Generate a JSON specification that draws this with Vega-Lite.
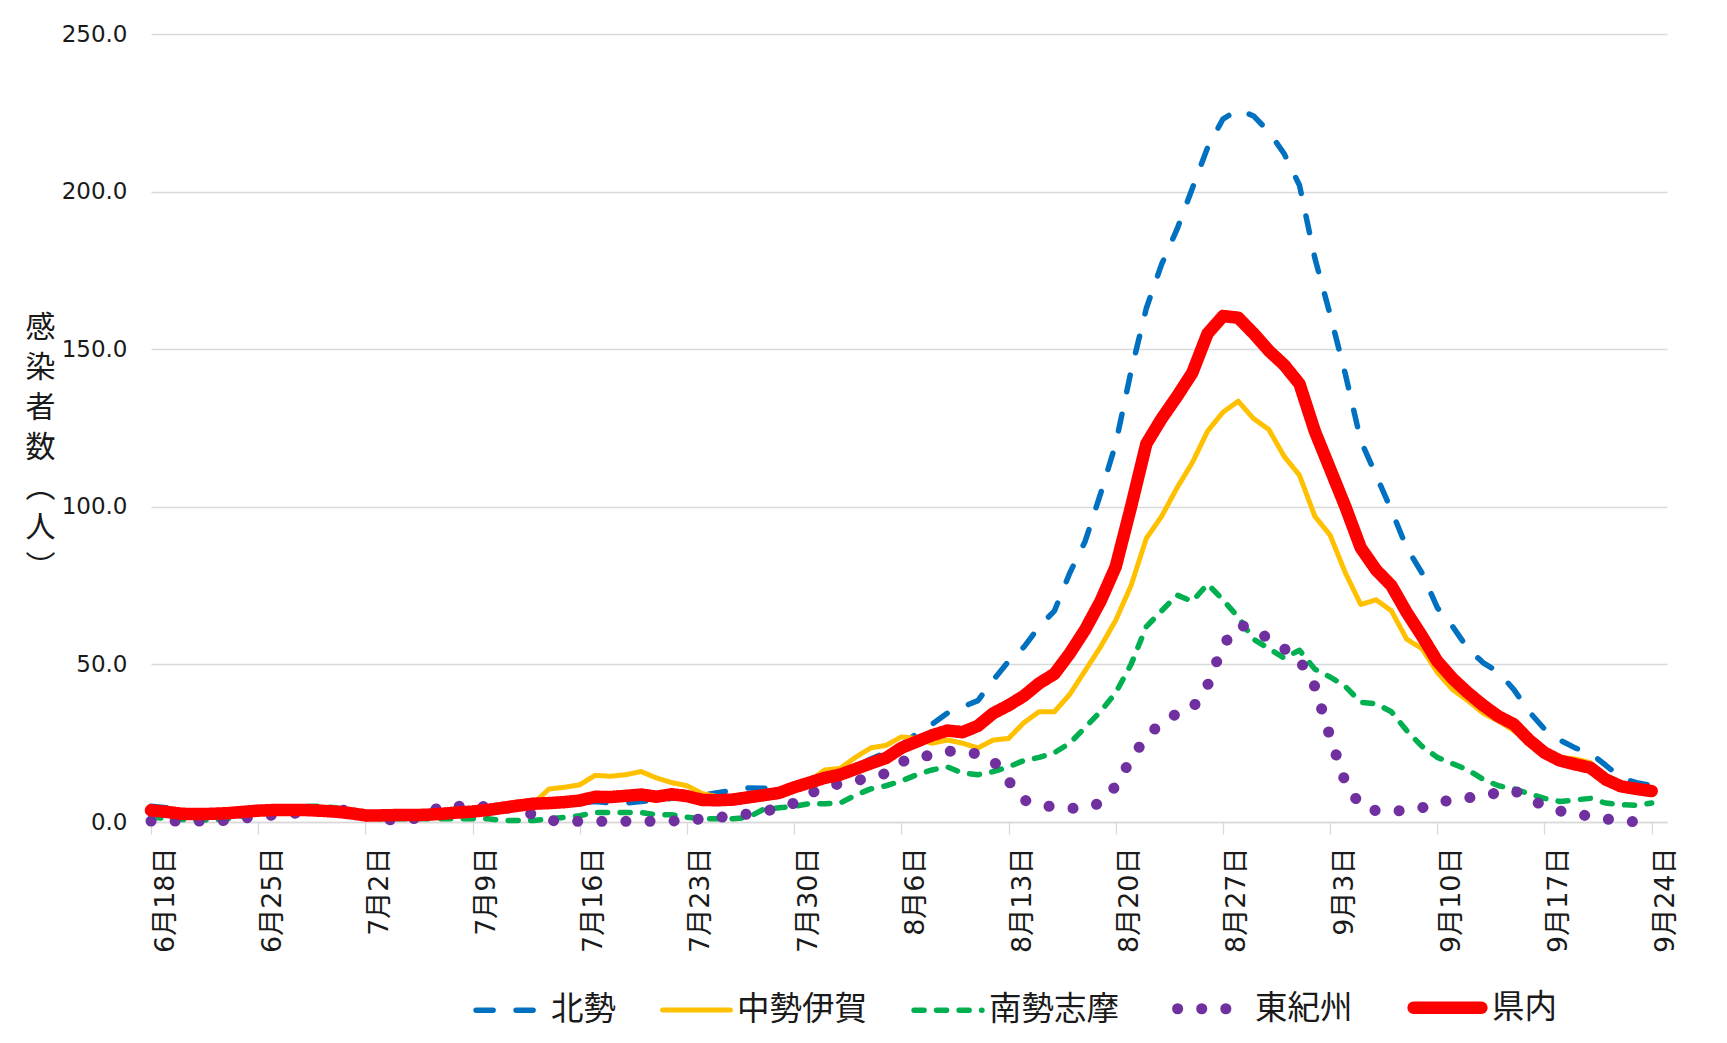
{
"$schema":"https://vega.github.io/schema/vega-lite/v6.json",
"width":1516,"height":788,
"autosize":{"type":"none"},
"padding":{"left":151,"top":34,"right":60,"bottom":221},
"background":"white",
"config":{"view":{"stroke":null},"font":"DejaVu Sans"},
"data":{"values":[
{"d":"2021-06-18","r":"北勢","v":5},{"d":"2021-06-19","r":"北勢","v":4.5},{"d":"2021-06-20","r":"北勢","v":3},{"d":"2021-06-21","r":"北勢","v":2.5},{"d":"2021-06-22","r":"北勢","v":2.5},{"d":"2021-06-23","r":"北勢","v":3},{"d":"2021-06-24","r":"北勢","v":3},{"d":"2021-06-25","r":"北勢","v":3.5},{"d":"2021-06-26","r":"北勢","v":3.5},{"d":"2021-06-27","r":"北勢","v":3.5},
{"d":"2021-06-28","r":"北勢","v":3.5},{"d":"2021-06-29","r":"北勢","v":3.3},{"d":"2021-06-30","r":"北勢","v":3},{"d":"2021-07-01","r":"北勢","v":2.5},{"d":"2021-07-02","r":"北勢","v":2},{"d":"2021-07-03","r":"北勢","v":2},{"d":"2021-07-04","r":"北勢","v":2},{"d":"2021-07-05","r":"北勢","v":2},{"d":"2021-07-06","r":"北勢","v":2},{"d":"2021-07-07","r":"北勢","v":2.2},
{"d":"2021-07-08","r":"北勢","v":2.8},{"d":"2021-07-09","r":"北勢","v":3},{"d":"2021-07-10","r":"北勢","v":3.5},{"d":"2021-07-11","r":"北勢","v":4},{"d":"2021-07-12","r":"北勢","v":4.5},{"d":"2021-07-13","r":"北勢","v":5},{"d":"2021-07-14","r":"北勢","v":5},{"d":"2021-07-15","r":"北勢","v":5.5},{"d":"2021-07-16","r":"北勢","v":6},{"d":"2021-07-17","r":"北勢","v":6.5},
{"d":"2021-07-18","r":"北勢","v":6},{"d":"2021-07-19","r":"北勢","v":6},{"d":"2021-07-20","r":"北勢","v":6.5},{"d":"2021-07-21","r":"北勢","v":7},{"d":"2021-07-22","r":"北勢","v":7.5},{"d":"2021-07-23","r":"北勢","v":8},{"d":"2021-07-24","r":"北勢","v":8.5},{"d":"2021-07-25","r":"北勢","v":9.3},{"d":"2021-07-26","r":"北勢","v":10},{"d":"2021-07-27","r":"北勢","v":10.8},
{"d":"2021-07-28","r":"北勢","v":10.7},{"d":"2021-07-29","r":"北勢","v":11},{"d":"2021-07-30","r":"北勢","v":11.8},{"d":"2021-07-31","r":"北勢","v":12.7},{"d":"2021-08-01","r":"北勢","v":14},{"d":"2021-08-02","r":"北勢","v":15.5},{"d":"2021-08-03","r":"北勢","v":17.5},{"d":"2021-08-04","r":"北勢","v":20},{"d":"2021-08-05","r":"北勢","v":22},{"d":"2021-08-06","r":"北勢","v":24.5},
{"d":"2021-08-07","r":"北勢","v":28},{"d":"2021-08-08","r":"北勢","v":31},{"d":"2021-08-09","r":"北勢","v":34.5},{"d":"2021-08-10","r":"北勢","v":36.5},{"d":"2021-08-11","r":"北勢","v":38.5},{"d":"2021-08-12","r":"北勢","v":45},{"d":"2021-08-13","r":"北勢","v":51},{"d":"2021-08-14","r":"北勢","v":55.5},{"d":"2021-08-15","r":"北勢","v":62},{"d":"2021-08-16","r":"北勢","v":67},
{"d":"2021-08-17","r":"北勢","v":79},{"d":"2021-08-18","r":"北勢","v":89},{"d":"2021-08-19","r":"北勢","v":104},{"d":"2021-08-20","r":"北勢","v":120},{"d":"2021-08-21","r":"北勢","v":143},{"d":"2021-08-22","r":"北勢","v":163},{"d":"2021-08-23","r":"北勢","v":177},{"d":"2021-08-24","r":"北勢","v":188},{"d":"2021-08-25","r":"北勢","v":201},{"d":"2021-08-26","r":"北勢","v":214},
{"d":"2021-08-27","r":"北勢","v":223},{"d":"2021-08-28","r":"北勢","v":226},{"d":"2021-08-29","r":"北勢","v":224},{"d":"2021-08-30","r":"北勢","v":219},{"d":"2021-08-31","r":"北勢","v":212},{"d":"2021-09-01","r":"北勢","v":202},{"d":"2021-09-02","r":"北勢","v":179},{"d":"2021-09-03","r":"北勢","v":161},{"d":"2021-09-04","r":"北勢","v":142},{"d":"2021-09-05","r":"北勢","v":121},
{"d":"2021-09-06","r":"北勢","v":110},{"d":"2021-09-07","r":"北勢","v":99},{"d":"2021-09-08","r":"北勢","v":87},{"d":"2021-09-09","r":"北勢","v":79},{"d":"2021-09-10","r":"北勢","v":68},{"d":"2021-09-11","r":"北勢","v":62},{"d":"2021-09-12","r":"北勢","v":55},{"d":"2021-09-13","r":"北勢","v":50.5},{"d":"2021-09-14","r":"北勢","v":47.5},{"d":"2021-09-15","r":"北勢","v":42},
{"d":"2021-09-16","r":"北勢","v":35},{"d":"2021-09-17","r":"北勢","v":29.5},{"d":"2021-09-18","r":"北勢","v":26},{"d":"2021-09-19","r":"北勢","v":23.5},{"d":"2021-09-20","r":"北勢","v":21.8},{"d":"2021-09-21","r":"北勢","v":18},{"d":"2021-09-22","r":"北勢","v":14},{"d":"2021-09-23","r":"北勢","v":12.5},{"d":"2021-09-24","r":"北勢","v":11.5},

{"d":"2021-06-18","r":"中勢伊賀","v":3},{"d":"2021-06-19","r":"中勢伊賀","v":2.5},{"d":"2021-06-20","r":"中勢伊賀","v":2},{"d":"2021-06-21","r":"中勢伊賀","v":2},{"d":"2021-06-22","r":"中勢伊賀","v":2.3},{"d":"2021-06-23","r":"中勢伊賀","v":2.5},{"d":"2021-06-24","r":"中勢伊賀","v":3},{"d":"2021-06-25","r":"中勢伊賀","v":3.2},{"d":"2021-06-26","r":"中勢伊賀","v":3.3},{"d":"2021-06-27","r":"中勢伊賀","v":3.3},
{"d":"2021-06-28","r":"中勢伊賀","v":3.3},{"d":"2021-06-29","r":"中勢伊賀","v":3},{"d":"2021-06-30","r":"中勢伊賀","v":2.7},{"d":"2021-07-01","r":"中勢伊賀","v":2.2},{"d":"2021-07-02","r":"中勢伊賀","v":1.8},{"d":"2021-07-03","r":"中勢伊賀","v":1.8},{"d":"2021-07-04","r":"中勢伊賀","v":2},{"d":"2021-07-05","r":"中勢伊賀","v":2},{"d":"2021-07-06","r":"中勢伊賀","v":2.3},{"d":"2021-07-07","r":"中勢伊賀","v":2.8},
{"d":"2021-07-08","r":"中勢伊賀","v":3.5},{"d":"2021-07-09","r":"中勢伊賀","v":4},{"d":"2021-07-10","r":"中勢伊賀","v":4.5},{"d":"2021-07-11","r":"中勢伊賀","v":5},{"d":"2021-07-12","r":"中勢伊賀","v":5.5},{"d":"2021-07-13","r":"中勢伊賀","v":6},{"d":"2021-07-14","r":"中勢伊賀","v":10.5},{"d":"2021-07-15","r":"中勢伊賀","v":11},{"d":"2021-07-16","r":"中勢伊賀","v":11.8},{"d":"2021-07-17","r":"中勢伊賀","v":14.8},
{"d":"2021-07-18","r":"中勢伊賀","v":14.5},{"d":"2021-07-19","r":"中勢伊賀","v":15},{"d":"2021-07-20","r":"中勢伊賀","v":16},{"d":"2021-07-21","r":"中勢伊賀","v":14},{"d":"2021-07-22","r":"中勢伊賀","v":12.5},{"d":"2021-07-23","r":"中勢伊賀","v":11.5},{"d":"2021-07-24","r":"中勢伊賀","v":9},{"d":"2021-07-25","r":"中勢伊賀","v":8},{"d":"2021-07-26","r":"中勢伊賀","v":7},{"d":"2021-07-27","r":"中勢伊賀","v":7.5},
{"d":"2021-07-28","r":"中勢伊賀","v":8},{"d":"2021-07-29","r":"中勢伊賀","v":9},{"d":"2021-07-30","r":"中勢伊賀","v":10.8},{"d":"2021-07-31","r":"中勢伊賀","v":13},{"d":"2021-08-01","r":"中勢伊賀","v":16.5},{"d":"2021-08-02","r":"中勢伊賀","v":17},{"d":"2021-08-03","r":"中勢伊賀","v":20.5},{"d":"2021-08-04","r":"中勢伊賀","v":23.5},{"d":"2021-08-05","r":"中勢伊賀","v":24.3},{"d":"2021-08-06","r":"中勢伊賀","v":27},
{"d":"2021-08-07","r":"中勢伊賀","v":26.5},{"d":"2021-08-08","r":"中勢伊賀","v":25},{"d":"2021-08-09","r":"中勢伊賀","v":26},{"d":"2021-08-10","r":"中勢伊賀","v":25},{"d":"2021-08-11","r":"中勢伊賀","v":23.5},{"d":"2021-08-12","r":"中勢伊賀","v":26},{"d":"2021-08-13","r":"中勢伊賀","v":26.5},{"d":"2021-08-14","r":"中勢伊賀","v":31.5},{"d":"2021-08-15","r":"中勢伊賀","v":35},{"d":"2021-08-16","r":"中勢伊賀","v":35},
{"d":"2021-08-17","r":"中勢伊賀","v":40.5},{"d":"2021-08-18","r":"中勢伊賀","v":48},{"d":"2021-08-19","r":"中勢伊賀","v":55.5},{"d":"2021-08-20","r":"中勢伊賀","v":64},{"d":"2021-08-21","r":"中勢伊賀","v":75},{"d":"2021-08-22","r":"中勢伊賀","v":90},{"d":"2021-08-23","r":"中勢伊賀","v":97},{"d":"2021-08-24","r":"中勢伊賀","v":106},{"d":"2021-08-25","r":"中勢伊賀","v":114},{"d":"2021-08-26","r":"中勢伊賀","v":124},
{"d":"2021-08-27","r":"中勢伊賀","v":130},{"d":"2021-08-28","r":"中勢伊賀","v":133.5},{"d":"2021-08-29","r":"中勢伊賀","v":128},{"d":"2021-08-30","r":"中勢伊賀","v":124.5},{"d":"2021-08-31","r":"中勢伊賀","v":116},{"d":"2021-09-01","r":"中勢伊賀","v":110},{"d":"2021-09-02","r":"中勢伊賀","v":97},{"d":"2021-09-03","r":"中勢伊賀","v":91},{"d":"2021-09-04","r":"中勢伊賀","v":79},{"d":"2021-09-05","r":"中勢伊賀","v":69},
{"d":"2021-09-06","r":"中勢伊賀","v":70.5},{"d":"2021-09-07","r":"中勢伊賀","v":67},{"d":"2021-09-08","r":"中勢伊賀","v":58},{"d":"2021-09-09","r":"中勢伊賀","v":55},{"d":"2021-09-10","r":"中勢伊賀","v":47.5},{"d":"2021-09-11","r":"中勢伊賀","v":42},{"d":"2021-09-12","r":"中勢伊賀","v":38.5},{"d":"2021-09-13","r":"中勢伊賀","v":34.5},{"d":"2021-09-14","r":"中勢伊賀","v":32},{"d":"2021-09-15","r":"中勢伊賀","v":29},
{"d":"2021-09-16","r":"中勢伊賀","v":25},{"d":"2021-09-17","r":"中勢伊賀","v":22},{"d":"2021-09-18","r":"中勢伊賀","v":20.5},{"d":"2021-09-19","r":"中勢伊賀","v":20},{"d":"2021-09-20","r":"中勢伊賀","v":18.8},{"d":"2021-09-21","r":"中勢伊賀","v":13.5},{"d":"2021-09-22","r":"中勢伊賀","v":11.5},{"d":"2021-09-23","r":"中勢伊賀","v":10.5},{"d":"2021-09-24","r":"中勢伊賀","v":9.5},

{"d":"2021-06-18","r":"南勢志摩","v":1.5},{"d":"2021-06-19","r":"南勢志摩","v":1.2},{"d":"2021-06-20","r":"南勢志摩","v":0.8},{"d":"2021-06-21","r":"南勢志摩","v":0.6},{"d":"2021-06-22","r":"南勢志摩","v":0.6},{"d":"2021-06-23","r":"南勢志摩","v":1},{"d":"2021-06-24","r":"南勢志摩","v":2},{"d":"2021-06-25","r":"南勢志摩","v":3},{"d":"2021-06-26","r":"南勢志摩","v":3.8},{"d":"2021-06-27","r":"南勢志摩","v":4.5},
{"d":"2021-06-28","r":"南勢志摩","v":5},{"d":"2021-06-29","r":"南勢志摩","v":5},{"d":"2021-06-30","r":"南勢志摩","v":4.5},{"d":"2021-07-01","r":"南勢志摩","v":3.8},{"d":"2021-07-02","r":"南勢志摩","v":2.2},{"d":"2021-07-03","r":"南勢志摩","v":1},{"d":"2021-07-04","r":"南勢志摩","v":1},{"d":"2021-07-05","r":"南勢志摩","v":1},{"d":"2021-07-06","r":"南勢志摩","v":1},{"d":"2021-07-07","r":"南勢志摩","v":1},
{"d":"2021-07-08","r":"南勢志摩","v":1},{"d":"2021-07-09","r":"南勢志摩","v":1},{"d":"2021-07-10","r":"南勢志摩","v":1},{"d":"2021-07-11","r":"南勢志摩","v":0.5},{"d":"2021-07-12","r":"南勢志摩","v":0.5},{"d":"2021-07-13","r":"南勢志摩","v":0.5},{"d":"2021-07-14","r":"南勢志摩","v":1},{"d":"2021-07-15","r":"南勢志摩","v":1.5},{"d":"2021-07-16","r":"南勢志摩","v":2},{"d":"2021-07-17","r":"南勢志摩","v":3},
{"d":"2021-07-18","r":"南勢志摩","v":3},{"d":"2021-07-19","r":"南勢志摩","v":3},{"d":"2021-07-20","r":"南勢志摩","v":3},{"d":"2021-07-21","r":"南勢志摩","v":2.3},{"d":"2021-07-22","r":"南勢志摩","v":2.3},{"d":"2021-07-23","r":"南勢志摩","v":1.5},{"d":"2021-07-24","r":"南勢志摩","v":1},{"d":"2021-07-25","r":"南勢志摩","v":1},{"d":"2021-07-26","r":"南勢志摩","v":1},{"d":"2021-07-27","r":"南勢志摩","v":1.5},
{"d":"2021-07-28","r":"南勢志摩","v":4},{"d":"2021-07-29","r":"南勢志摩","v":4.5},{"d":"2021-07-30","r":"南勢志摩","v":5},{"d":"2021-07-31","r":"南勢志摩","v":5.8},{"d":"2021-08-01","r":"南勢志摩","v":5.8},{"d":"2021-08-02","r":"南勢志摩","v":6},{"d":"2021-08-03","r":"南勢志摩","v":8.5},{"d":"2021-08-04","r":"南勢志摩","v":10.5},{"d":"2021-08-05","r":"南勢志摩","v":11.5},{"d":"2021-08-06","r":"南勢志摩","v":13},
{"d":"2021-08-07","r":"南勢志摩","v":15},{"d":"2021-08-08","r":"南勢志摩","v":16.5},{"d":"2021-08-09","r":"南勢志摩","v":17.5},{"d":"2021-08-10","r":"南勢志摩","v":15.5},{"d":"2021-08-11","r":"南勢志摩","v":15},{"d":"2021-08-12","r":"南勢志摩","v":16},{"d":"2021-08-13","r":"南勢志摩","v":17.5},{"d":"2021-08-14","r":"南勢志摩","v":19.5},{"d":"2021-08-15","r":"南勢志摩","v":20.5},{"d":"2021-08-16","r":"南勢志摩","v":22},
{"d":"2021-08-17","r":"南勢志摩","v":25},{"d":"2021-08-18","r":"南勢志摩","v":30},{"d":"2021-08-19","r":"南勢志摩","v":35},{"d":"2021-08-20","r":"南勢志摩","v":41},{"d":"2021-08-21","r":"南勢志摩","v":50},{"d":"2021-08-22","r":"南勢志摩","v":62},{"d":"2021-08-23","r":"南勢志摩","v":67},{"d":"2021-08-24","r":"南勢志摩","v":72},{"d":"2021-08-25","r":"南勢志摩","v":70},{"d":"2021-08-26","r":"南勢志摩","v":75.5},
{"d":"2021-08-27","r":"南勢志摩","v":70.5},{"d":"2021-08-28","r":"南勢志摩","v":65},{"d":"2021-08-29","r":"南勢志摩","v":58},{"d":"2021-08-30","r":"南勢志摩","v":55},{"d":"2021-08-31","r":"南勢志摩","v":52},{"d":"2021-09-01","r":"南勢志摩","v":54.5},{"d":"2021-09-02","r":"南勢志摩","v":48.5},{"d":"2021-09-03","r":"南勢志摩","v":46},{"d":"2021-09-04","r":"南勢志摩","v":43},{"d":"2021-09-05","r":"南勢志摩","v":38},
{"d":"2021-09-06","r":"南勢志摩","v":37.5},{"d":"2021-09-07","r":"南勢志摩","v":35},{"d":"2021-09-08","r":"南勢志摩","v":29},{"d":"2021-09-09","r":"南勢志摩","v":24},{"d":"2021-09-10","r":"南勢志摩","v":20.5},{"d":"2021-09-11","r":"南勢志摩","v":18.5},{"d":"2021-09-12","r":"南勢志摩","v":16.5},{"d":"2021-09-13","r":"南勢志摩","v":13.5},{"d":"2021-09-14","r":"南勢志摩","v":11.5},{"d":"2021-09-15","r":"南勢志摩","v":10.5},
{"d":"2021-09-16","r":"南勢志摩","v":9},{"d":"2021-09-17","r":"南勢志摩","v":7.5},{"d":"2021-09-18","r":"南勢志摩","v":6.5},{"d":"2021-09-19","r":"南勢志摩","v":7},{"d":"2021-09-20","r":"南勢志摩","v":7.5},{"d":"2021-09-21","r":"南勢志摩","v":6},{"d":"2021-09-22","r":"南勢志摩","v":5.5},{"d":"2021-09-23","r":"南勢志摩","v":5.3},{"d":"2021-09-24","r":"南勢志摩","v":6},

{"d":"2021-06-18","r":"東紀州","v":0.3},{"d":"2021-06-19","r":"東紀州","v":0.3},{"d":"2021-06-20","r":"東紀州","v":0.3},{"d":"2021-06-21","r":"東紀州","v":0.3},{"d":"2021-06-22","r":"東紀州","v":0.3},{"d":"2021-06-23","r":"東紀州","v":0.5},{"d":"2021-06-24","r":"東紀州","v":1.2},{"d":"2021-06-25","r":"東紀州","v":1.8},{"d":"2021-06-26","r":"東紀州","v":2.2},{"d":"2021-06-27","r":"東紀州","v":2.6},
{"d":"2021-06-28","r":"東紀州","v":3},{"d":"2021-06-29","r":"東紀州","v":3.3},{"d":"2021-06-30","r":"東紀州","v":3.6},{"d":"2021-07-01","r":"東紀州","v":3.8},{"d":"2021-07-02","r":"東紀州","v":2},{"d":"2021-07-03","r":"東紀州","v":0.8},{"d":"2021-07-04","r":"東紀州","v":0.6},{"d":"2021-07-05","r":"東紀州","v":0.8},{"d":"2021-07-06","r":"東紀州","v":2.5},{"d":"2021-07-07","r":"東紀州","v":5.2},
{"d":"2021-07-08","r":"東紀州","v":5},{"d":"2021-07-09","r":"東紀州","v":4.9},{"d":"2021-07-10","r":"東紀州","v":4.9},{"d":"2021-07-11","r":"東紀州","v":4.6},{"d":"2021-07-12","r":"東紀州","v":3.8},{"d":"2021-07-13","r":"東紀州","v":2.3},{"d":"2021-07-14","r":"東紀州","v":0.5},{"d":"2021-07-15","r":"東紀州","v":0.2},{"d":"2021-07-16","r":"東紀州","v":0.2},{"d":"2021-07-17","r":"東紀州","v":0.2},
{"d":"2021-07-18","r":"東紀州","v":0.2},{"d":"2021-07-19","r":"東紀州","v":0.2},{"d":"2021-07-20","r":"東紀州","v":0.2},{"d":"2021-07-21","r":"東紀州","v":0.2},{"d":"2021-07-22","r":"東紀州","v":0.3},{"d":"2021-07-23","r":"東紀州","v":0.6},{"d":"2021-07-24","r":"東紀州","v":1},{"d":"2021-07-25","r":"東紀州","v":1.4},{"d":"2021-07-26","r":"東紀州","v":2},{"d":"2021-07-27","r":"東紀州","v":2.5},
{"d":"2021-07-28","r":"東紀州","v":3.4},{"d":"2021-07-29","r":"東紀州","v":4.3},{"d":"2021-07-30","r":"東紀州","v":6},{"d":"2021-07-31","r":"東紀州","v":9},{"d":"2021-08-01","r":"東紀州","v":11},{"d":"2021-08-02","r":"東紀州","v":12.2},{"d":"2021-08-03","r":"東紀州","v":13},{"d":"2021-08-04","r":"東紀州","v":14.2},{"d":"2021-08-05","r":"東紀州","v":15.4},{"d":"2021-08-06","r":"東紀州","v":19},
{"d":"2021-08-07","r":"東紀州","v":21},{"d":"2021-08-08","r":"東紀州","v":21},{"d":"2021-08-09","r":"東紀州","v":22.5},{"d":"2021-08-10","r":"東紀州","v":22.3},{"d":"2021-08-11","r":"東紀州","v":21.6},{"d":"2021-08-12","r":"東紀州","v":19.5},{"d":"2021-08-13","r":"東紀州","v":13},{"d":"2021-08-14","r":"東紀州","v":7},{"d":"2021-08-15","r":"東紀州","v":5.3},{"d":"2021-08-16","r":"東紀州","v":4.8},
{"d":"2021-08-17","r":"東紀州","v":4.3},{"d":"2021-08-18","r":"東紀州","v":4.5},{"d":"2021-08-19","r":"東紀州","v":6},{"d":"2021-08-20","r":"東紀州","v":11.4},{"d":"2021-08-21","r":"東紀州","v":20},{"d":"2021-08-22","r":"東紀州","v":27},{"d":"2021-08-23","r":"東紀州","v":31.5},{"d":"2021-08-24","r":"東紀州","v":34.4},{"d":"2021-08-25","r":"東紀州","v":36},{"d":"2021-08-26","r":"東紀州","v":43.4},
{"d":"2021-08-27","r":"東紀州","v":56},{"d":"2021-08-28","r":"東紀州","v":62.5},{"d":"2021-08-29","r":"東紀州","v":61.5},{"d":"2021-08-30","r":"東紀州","v":58},{"d":"2021-08-31","r":"東紀州","v":55},{"d":"2021-09-01","r":"東紀州","v":51.5},{"d":"2021-09-02","r":"東紀州","v":43},{"d":"2021-09-03","r":"東紀州","v":27},{"d":"2021-09-04","r":"東紀州","v":12.5},{"d":"2021-09-05","r":"東紀州","v":5},
{"d":"2021-09-06","r":"東紀州","v":3.6},{"d":"2021-09-07","r":"東紀州","v":3.5},{"d":"2021-09-08","r":"東紀州","v":3.6},{"d":"2021-09-09","r":"東紀州","v":4.5},{"d":"2021-09-10","r":"東紀州","v":6.2},{"d":"2021-09-11","r":"東紀州","v":7},{"d":"2021-09-12","r":"東紀州","v":7.7},{"d":"2021-09-13","r":"東紀州","v":8},{"d":"2021-09-14","r":"東紀州","v":9.5},{"d":"2021-09-15","r":"東紀州","v":10},
{"d":"2021-09-16","r":"東紀州","v":7.5},{"d":"2021-09-17","r":"東紀州","v":5},{"d":"2021-09-18","r":"東紀州","v":3.5},{"d":"2021-09-19","r":"東紀州","v":2.6},{"d":"2021-09-20","r":"東紀州","v":1.8},{"d":"2021-09-21","r":"東紀州","v":1},{"d":"2021-09-22","r":"東紀州","v":0.2},{"d":"2021-09-23","r":"東紀州","v":0.1},{"d":"2021-09-24","r":"東紀州","v":0.1},

{"d":"2021-06-18","r":"県内","v":3.7},{"d":"2021-06-19","r":"県内","v":3.2},{"d":"2021-06-20","r":"県内","v":2.6},{"d":"2021-06-21","r":"県内","v":2.5},{"d":"2021-06-22","r":"県内","v":2.6},{"d":"2021-06-23","r":"県内","v":2.8},{"d":"2021-06-24","r":"県内","v":3.2},{"d":"2021-06-25","r":"県内","v":3.6},{"d":"2021-06-26","r":"県内","v":3.8},{"d":"2021-06-27","r":"県内","v":3.8},
{"d":"2021-06-28","r":"県内","v":3.8},{"d":"2021-06-29","r":"県内","v":3.6},{"d":"2021-06-30","r":"県内","v":3.3},{"d":"2021-07-01","r":"県内","v":2.8},{"d":"2021-07-02","r":"県内","v":2.1},{"d":"2021-07-03","r":"県内","v":2.1},{"d":"2021-07-04","r":"県内","v":2.2},{"d":"2021-07-05","r":"県内","v":2.2},{"d":"2021-07-06","r":"県内","v":2.3},{"d":"2021-07-07","r":"県内","v":2.6},
{"d":"2021-07-08","r":"県内","v":3},{"d":"2021-07-09","r":"県内","v":3.3},{"d":"2021-07-10","r":"県内","v":3.8},{"d":"2021-07-11","r":"県内","v":4.5},{"d":"2021-07-12","r":"県内","v":5.2},{"d":"2021-07-13","r":"県内","v":5.8},{"d":"2021-07-14","r":"県内","v":6},{"d":"2021-07-15","r":"県内","v":6.3},{"d":"2021-07-16","r":"県内","v":6.8},{"d":"2021-07-17","r":"県内","v":8},
{"d":"2021-07-18","r":"県内","v":7.9},{"d":"2021-07-19","r":"県内","v":8.3},{"d":"2021-07-20","r":"県内","v":8.7},{"d":"2021-07-21","r":"県内","v":8},{"d":"2021-07-22","r":"県内","v":8.8},{"d":"2021-07-23","r":"県内","v":8.2},{"d":"2021-07-24","r":"県内","v":7},{"d":"2021-07-25","r":"県内","v":6.9},{"d":"2021-07-26","r":"県内","v":7.1},{"d":"2021-07-27","r":"県内","v":7.8},
{"d":"2021-07-28","r":"県内","v":8.5},{"d":"2021-07-29","r":"県内","v":9.2},{"d":"2021-07-30","r":"県内","v":11},{"d":"2021-07-31","r":"県内","v":12.5},{"d":"2021-08-01","r":"県内","v":14},{"d":"2021-08-02","r":"県内","v":15},{"d":"2021-08-03","r":"県内","v":16.8},{"d":"2021-08-04","r":"県内","v":18.6},{"d":"2021-08-05","r":"県内","v":20.3},{"d":"2021-08-06","r":"県内","v":23.5},
{"d":"2021-08-07","r":"県内","v":25.5},{"d":"2021-08-08","r":"県内","v":27.5},{"d":"2021-08-09","r":"県内","v":29},{"d":"2021-08-10","r":"県内","v":28.5},{"d":"2021-08-11","r":"県内","v":30.5},{"d":"2021-08-12","r":"県内","v":34.5},{"d":"2021-08-13","r":"県内","v":37},{"d":"2021-08-14","r":"県内","v":40},{"d":"2021-08-15","r":"県内","v":44},{"d":"2021-08-16","r":"県内","v":47},
{"d":"2021-08-17","r":"県内","v":53.5},{"d":"2021-08-18","r":"県内","v":61},{"d":"2021-08-19","r":"県内","v":70},{"d":"2021-08-20","r":"県内","v":81},{"d":"2021-08-21","r":"県内","v":100},{"d":"2021-08-22","r":"県内","v":120},{"d":"2021-08-23","r":"県内","v":128},{"d":"2021-08-24","r":"県内","v":135},{"d":"2021-08-25","r":"県内","v":142.5},{"d":"2021-08-26","r":"県内","v":155},
{"d":"2021-08-27","r":"県内","v":160.5},{"d":"2021-08-28","r":"県内","v":160},{"d":"2021-08-29","r":"県内","v":155},{"d":"2021-08-30","r":"県内","v":149.5},{"d":"2021-08-31","r":"県内","v":145},{"d":"2021-09-01","r":"県内","v":139},{"d":"2021-09-02","r":"県内","v":124},{"d":"2021-09-03","r":"県内","v":112},{"d":"2021-09-04","r":"県内","v":100},{"d":"2021-09-05","r":"県内","v":87},
{"d":"2021-09-06","r":"県内","v":80},{"d":"2021-09-07","r":"県内","v":75},{"d":"2021-09-08","r":"県内","v":66.5},{"d":"2021-09-09","r":"県内","v":59},{"d":"2021-09-10","r":"県内","v":51},{"d":"2021-09-11","r":"県内","v":45.5},{"d":"2021-09-12","r":"県内","v":41},{"d":"2021-09-13","r":"県内","v":37},{"d":"2021-09-14","r":"県内","v":33.5},{"d":"2021-09-15","r":"県内","v":31},
{"d":"2021-09-16","r":"県内","v":26},{"d":"2021-09-17","r":"県内","v":22},{"d":"2021-09-18","r":"県内","v":19.5},{"d":"2021-09-19","r":"県内","v":18.3},{"d":"2021-09-20","r":"県内","v":17.2},{"d":"2021-09-21","r":"県内","v":13.5},{"d":"2021-09-22","r":"県内","v":11.3},{"d":"2021-09-23","r":"県内","v":10.5},{"d":"2021-09-24","r":"県内","v":9.8}
]},
"encoding":{
 "x":{"field":"d","type":"temporal",
  "scale":{"type":"utc","domain":[{"year":2021,"month":6,"date":18,"utc":true},{"year":2021,"month":9,"date":25,"utc":true}]},
  "axis":{"title":null,"format":"%-m月%-d日","labelAngle":-90,"labelFontSize":27,"labelFont":"DejaVu Sans, Noto Sans CJK JP","labelColor":"#1a1a1a","labelPadding":13,"labelOffset":14,"labelFlush":false,"labelBound":false,"labelOverlap":false,"tickSize":12,"tickColor":"#d9d9d9","tickWidth":1.3,"domainColor":"#d9d9d9","domainWidth":1.3,"grid":false,
   "values":[{"year":2021,"month":6,"date":18,"utc":true},{"year":2021,"month":6,"date":25,"utc":true},{"year":2021,"month":7,"date":2,"utc":true},{"year":2021,"month":7,"date":9,"utc":true},{"year":2021,"month":7,"date":16,"utc":true},{"year":2021,"month":7,"date":23,"utc":true},{"year":2021,"month":7,"date":30,"utc":true},{"year":2021,"month":8,"date":6,"utc":true},{"year":2021,"month":8,"date":13,"utc":true},{"year":2021,"month":8,"date":20,"utc":true},{"year":2021,"month":8,"date":27,"utc":true},{"year":2021,"month":9,"date":3,"utc":true},{"year":2021,"month":9,"date":10,"utc":true},{"year":2021,"month":9,"date":17,"utc":true},{"year":2021,"month":9,"date":24,"utc":true}]}},
 "y":{"field":"v","type":"quantitative","scale":{"domain":[0,250]},
  "axis":{"values":[0,50,100,150,200,250],"format":".1f","labelFontSize":23,"labelFont":"DejaVu Sans","labelColor":"#1a1a1a","labelPadding":24,"ticks":false,"domain":false,"grid":true,"gridColor":"#d9d9d9","gridWidth":1.3,
   "title":["感","染","者","数","︵","人","︶"],"titleAngle":0,"titleX":-111,"titleY":293,"titleAlign":"center","titleBaseline":"middle","titleLineHeight":40,"titleFontSize":30,"titleFont":"Noto Sans CJK JP","titleFontWeight":"normal","titleColor":"#1a1a1a"}},
 "color":{"field":"r","type":"nominal","scale":{"domain":["北勢","中勢伊賀","南勢志摩","東紀州","県内"],"range":["#0070C0","#FFC000","#00B050","#7030A0","#FF0000"]},
  "legend":{"orient":"none","legendX":322,"legendY":933,"direction":"horizontal","title":null,"symbolType":"stroke","symbolSize":4600,"labelFontSize":32.5,"labelFont":"Noto Sans CJK JP","labelColor":"#1a1a1a","labelOffset":4,"columnPadding":35,"labelLimit":400,"encoding":{"symbols":{"strokeCap":{"value":"round"}}}}},
 "strokeDash":{"field":"r","type":"nominal","scale":{"domain":["北勢","中勢伊賀","南勢志摩","東紀州","県内"],"range":[[17,23],[1,0],[10,12.5],[0.1,24],[1,0]]},
  "legend":{"orient":"none","legendX":322,"legendY":933,"direction":"horizontal","title":null,"symbolType":"stroke","symbolSize":4600,"labelFontSize":32.5,"labelFont":"Noto Sans CJK JP","labelColor":"#1a1a1a","labelOffset":4,"columnPadding":35,"labelLimit":400,"encoding":{"symbols":{"strokeCap":{"value":"round"}}}}},
 "strokeWidth":{"field":"r","type":"nominal","scale":{"type":"ordinal","domain":["北勢","中勢伊賀","南勢志摩","東紀州","県内"],"range":[5.5,5,5.5,11,12.5]},
  "legend":{"orient":"none","legendX":322,"legendY":933,"direction":"horizontal","title":null,"symbolType":"stroke","symbolSize":4600,"labelFontSize":32.5,"labelFont":"Noto Sans CJK JP","labelColor":"#1a1a1a","labelOffset":4,"columnPadding":35,"labelLimit":400,"encoding":{"symbols":{"strokeCap":{"value":"round"}}}}}
},
"layer":[
 {"transform":[{"filter":"datum.r === '北勢'"}],"mark":{"type":"line","strokeCap":"round","strokeJoin":"round"}},
 {"transform":[{"filter":"datum.r === '中勢伊賀'"}],"mark":{"type":"line","strokeCap":"round","strokeJoin":"round"}},
 {"transform":[{"filter":"datum.r === '南勢志摩'"}],"mark":{"type":"line","strokeCap":"round","strokeJoin":"round"}},
 {"transform":[{"filter":"datum.r === '東紀州'"}],"mark":{"type":"line","strokeCap":"round","strokeJoin":"round"}},
 {"transform":[{"filter":"datum.r === '県内'"}],"mark":{"type":"line","strokeCap":"round","strokeJoin":"round"}}
]
}
